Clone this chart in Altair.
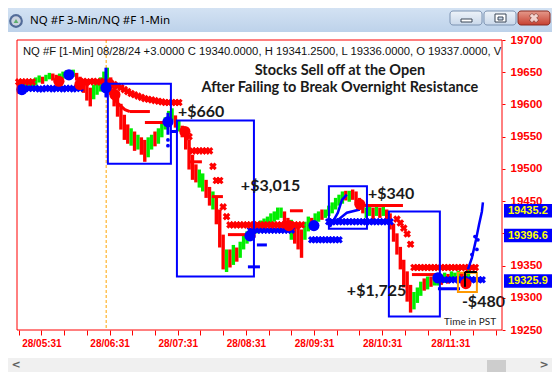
import altair as alt
import pandas as pd

# ---------------- data ----------------
BAR_START = 311   # minutes after midnight of the first 3-minute bar (05:11 PST)
BAR_STEP = 3

bar_hi = [19632, 19629, 19632, 19636, 19639, 19642, 19645, 19643, 19646, 19649,
          19648, 19646, 19648, 19651, 19653, 19651, 19654, 19649, 19643, 19637,
          19632, 19626, 19631, 19636, 19642, 19651, 19657, 19642, 19628, 19615,
          19601, 19584, 19569, 19563, 19558, 19553, 19549, 19545, 19549, 19553,
          19558, 19563, 19570, 19580, 19590, 19594, 19583, 19575, 19567, 19561,
          19546, 19522, 19507, 19499, 19493, 19483, 19472, 19465, 19455, 19437,
          19398, 19375, 19375, 19382, 19378, 19387, 19396, 19403, 19407, 19413,
          19417, 19420, 19423, 19426, 19431, 19434, 19440, 19440, 19434, 19424,
          19421, 19417, 19412, 19406, 19418, 19426, 19424, 19431, 19434, 19437,
          19437, 19443, 19448, 19455, 19460, 19465, 19466, 19466, 19468, 19465,
          19455, 19446, 19440, 19443, 19440, 19441, 19440, 19443, 19437, 19431,
          19415, 19400, 19379, 19359, 19341, 19320, 19309, 19316, 19325, 19330,
          19333, 19333, 19334, 19336, 19336, 19339, 19337, 19341, 19339, 19342,
          19339, 19341, 19344]
bar_lo = [19617, 19615, 19620, 19623, 19626, 19629, 19634, 19632, 19636, 19639,
          19637, 19636, 19639, 19640, 19642, 19642, 19643, 19637, 19629, 19618,
          19606, 19597, 19608, 19615, 19620, 19626, 19636, 19615, 19597, 19581,
          19561, 19545, 19539, 19536, 19528, 19530, 19522, 19511, 19518, 19530,
          19535, 19539, 19549, 19561, 19572, 19575, 19564, 19558, 19549, 19530,
          19499, 19483, 19479, 19471, 19465, 19455, 19443, 19437, 19414, 19378,
          19344, 19340, 19347, 19351, 19356, 19362, 19375, 19384, 19389, 19393,
          19400, 19404, 19407, 19410, 19415, 19418, 19421, 19424, 19415, 19403,
          19390, 19384, 19375, 19362, 19390, 19403, 19409, 19412, 19418, 19421,
          19424, 19427, 19431, 19437, 19443, 19446, 19451, 19449, 19452, 19446,
          19437, 19431, 19424, 19427, 19421, 19427, 19424, 19427, 19418, 19406,
          19387, 19367, 19344, 19316, 19294, 19277, 19282, 19292, 19303, 19311,
          19313, 19317, 19319, 19319, 19320, 19323, 19322, 19325, 19325, 19328,
          19323, 19325, 19331]
bar_dir = ("rrgggggrgg" "rrgggrgrrr" "rrgggggrrr" "rrrgrgrrgg" "rgggggrgrr"
           "rrrggrrgrr" "rgrgrggggr" "ggggggggrr" "grrrggrggr" "ggggggrgrr"
           "rrggrgrgrr" "rrrrrrgggr" "grggrgrggg" "rrg")

red_x_t = [311, 314, 317, 320, 323,
           365, 368, 371, 374, 377, 380, 383, 386,
           389, 392, 395, 398, 401, 404, 407, 410, 413, 416, 419, 422, 425, 428,
           431, 434, 437, 440, 443, 446, 449, 452,
           461, 464, 467, 470, 473, 476, 479, 482, 485, 488, 491, 494,
           497, 500, 503, 506, 509, 512, 515, 518, 521, 524, 527, 530, 533, 536,
           539, 542, 545, 548, 551, 554, 557, 560,
           644, 647, 650, 653, 656,
           659, 662, 665, 668, 671, 674, 677, 680, 683, 686, 689, 692, 695, 698,
           701, 704, 707, 710, 713]
red_x_p = [19635, 19635, 19635, 19635, 19635,
           19636, 19636, 19635, 19635, 19636, 19635, 19635, 19636,
           19635, 19633, 19631, 19628, 19626, 19623, 19620, 19617, 19615, 19613,
           19611, 19609, 19608, 19607, 19606, 19605, 19604, 19603, 19603, 19603,
           19603, 19603,
           19550, 19528, 19528, 19528, 19528, 19528, 19528, 19504, 19482, 19482,
           19441, 19426,
           19413, 19413, 19413, 19413, 19413, 19413, 19413, 19413, 19413, 19413,
           19413, 19413, 19413, 19413, 19413, 19413, 19413, 19413, 19413, 19413,
           19413, 19413,
           19422, 19416, 19408, 19399, 19383,
           19347, 19347, 19347, 19347, 19347, 19347, 19347, 19347, 19347, 19347,
           19347, 19347, 19347, 19347, 19347, 19347, 19347, 19347, 19347]

blue_x_t = [317, 320, 323, 326, 329, 332, 335, 338, 341, 344, 347, 350, 353, 356,
            359, 362, 365,
            515, 518, 521, 524, 527, 530, 533, 536, 539, 542, 545, 548, 551,
            569, 572, 575, 578, 581, 584, 587, 590, 593,
            584, 587, 590, 593, 596, 599, 602, 605, 608, 611, 614, 617, 620, 623,
            626, 629, 632, 635, 638,
            680, 683, 686, 689, 692, 695, 698, 701, 704, 707, 710, 713, 716, 719]
blue_x_p = [19625, 19625, 19625, 19625, 19624, 19624, 19625, 19625, 19624, 19625,
            19625, 19624, 19625, 19625, 19624, 19625, 19625,
            19405, 19405, 19405, 19405, 19405, 19405, 19405, 19405, 19405, 19405,
            19405, 19405, 19405,
            19390, 19390, 19390, 19390, 19390, 19390, 19390, 19390, 19390,
            19418, 19418, 19418, 19418, 19418, 19418, 19418, 19418, 19418, 19418,
            19418, 19418, 19418, 19418, 19418, 19418, 19418, 19418, 19418,
            19328, 19328, 19328, 19328, 19328, 19328, 19328, 19328, 19328, 19328,
            19328, 19328, 19328, 19328]

red_dot_t = [346.4, 364.9, 395.7, 457.3, 548.9, 611.4, 704.7]
red_dot_p = [19636, 19631, 19615, 19558, 19412, 19445, 19322]
blue_dot_t = [313.8, 355.2, 387.8, 442.4, 514.6, 570.9, 680.1]
blue_dot_p = [19623, 19646, 19626, 19573, 19396, 19412, 19331]

red_dash_t1 = [408.9, 422.1, 461.7, 481.1, 495.2, 549.8, 615.8, 657.2]
red_dash_t2 = [426.5, 439.7, 472.3, 490.8, 514.6, 561.2, 649.3, 679.2]
red_dash_p = [19589, 19572, 19511, 19457, 19398, 19435, 19443, 19336]
red_path_t = [391.3, 397.5, 404.5, 408.9]
red_path_p = [19628, 19603, 19592, 19589]

blue_dash_t1 = [444.1, 512.8, 520.7, 680.1]
blue_dash_t2 = [451.2, 523.4, 529.5, 699.5]
blue_dash_p = [19558, 19348, 19382, 19314]
blue_vbar_t = [387.8, 442.4]
blue_vbar_hi = [19657, 19587]
blue_vbar_lo = [19611, 19553]

blue_curve_id = ["a", "a", "a", "a", "b", "b", "b", "c", "c", "c", "c", "c", "c"]
blue_curve_t = [585.0, 592.0, 595.6, 599.9, 589.4, 599.9, 611.4,
                706.5, 710.0, 713.6, 716.2, 718.8, 719.7]
blue_curve_p = [19410, 19432, 19452, 19460, 19417, 19432, 19437,
                19344, 19362, 19390, 19413, 19434, 19448]
blue_small_t = [442.4, 442.4, 710.0, 714.4, 715.3, 712.7]
blue_small_p = [19545, 19536, 19367, 19375, 19390, 19395]

box_t1 = [389.5, 450.3, 584.1, 636.9]
box_t2 = [445.0, 518.1, 617.6, 681.8]
box_p1 = [19632, 19575, 19473, 19434]
box_p2 = [19508, 19333, 19407, 19271]
loss_box = {"t1": 697.7, "t2": 714.4, "p1": 19339, "p2": 19309}
last_mark_t = [703.9, 714.4]
last_mark_p = [19340, 19317]
open_time = 388

pnl_text = ["+$660", "+$3,015", "+$340", "+$1,725", "-$480"]
pnl_t = [451.2, 506.6, 618.5, 599.9, 701.2]
pnl_p = [19581, 19465, 19454, 19303, 19286]

title_lines = ["Stocks Sell off at the Open", "After Failing to Break Overnight Resistance"]
title_t = [593.8, 593.8]
title_p = [19646, 19620]
header = ("NQ #F [1-Min] 08/28/24  +3.0000 C 19340.0000, H 19341.2500, "
          "L 19336.0000, O 19337.0000, V")
tag_values = [19435.2, 19396.6, 19325.9]
tag_labels = ["19435.2", "19396.6", "19325.9"]
y_ticks = [19250, 19300, 19350, 19400, 19450, 19500, 19550, 19600, 19650, 19700]
x_ticks = list(range(311, 732, 20))
window_title = "NQ #F 3-Min/NQ #F 1-Min"

# ---------------- style ----------------
RED = "#ff0000"
GREEN = "#00ee00"
BLUE = "#0000ff"
W, H = 485, 290
XS = alt.Scale(domain=[309.5, 736.5], nice=False, zero=False)
YS = alt.Scale(domain=[19250, 19700], nice=False, zero=False)

X_AXIS = alt.Axis(orient="bottom", values=x_ticks, title=None, grid=False, domain=False,
                  tickSize=5, tickColor=RED, tickWidth=1, labelColor=RED,
                  labelFont="Liberation Sans", labelFontSize=10, labelFontWeight="bold",
                  labelPadding=3, labelOverlap=False, labelFlush=False, labelBound=False,
                  labelExpr="(datum.value - 331) % 60 == 0 ? '28/' + (datum.value < 600 ? '0' : '')"
                            " + floor(datum.value / 60) + ':31' : ''")
# the 19400 label is completely covered by the 19396.6 price tag in the reference
Y_AXIS = alt.Axis(orient="right", values=y_ticks, title=None, grid=False, domain=False,
                  tickSize=3, tickColor=RED, labelColor=RED, format="d",
                  labelFont="Liberation Sans", labelFontSize=11.5, labelFontWeight="bold",
                  labelPadding=5, labelOverlap=False, labelFlush=False, labelBound=False,
                  labelExpr="datum.value == 19400 ? '' : datum.label")


def X(f="t"):
    return alt.X(f + ":Q", scale=XS, axis=X_AXIS)


def Y(f="p"):
    return alt.Y(f + ":Q", scale=YS, axis=Y_AXIS)


one = pd.DataFrame({"k": [0]})


def prect(x1, x2, y1, y2, **mk):
    return alt.Chart(one).mark_rect(**mk).encode(
        x=alt.value(x1), x2=alt.value(x2), y=alt.value(y1), y2=alt.value(y2))


def ptext(x, y, txt, **mk):
    return alt.Chart(one).mark_text(text=txt, **mk).encode(x=alt.value(x), y=alt.value(y))


layers = []

# price bars
bars_df = pd.DataFrame({"t": [BAR_START + BAR_STEP * i for i in range(len(bar_hi))],
                        "hi": bar_hi, "lo": bar_lo, "dir": list(bar_dir)})
layers.append(alt.Chart(bars_df).mark_rule(strokeWidth=3.4).encode(
    x=X("t"), y=Y("hi"), y2="lo:Q",
    color=alt.Color("dir:N", scale=alt.Scale(domain=["g", "r"], range=[GREEN, RED]), legend=None)))

# window chrome (title bar, buttons, scroll bar)
tb_grad = alt.LinearGradient(gradient="linear", x1=0, x2=0, y1=0, y2=1,
                             stops=[alt.GradientStop(color="#d3e2f3", offset=0),
                                    alt.GradientStop(color="#bdd2ea", offset=1)])
layers.append(prect(-9, 536, -32, -8, color=tb_grad))
layers.append(alt.Chart(one).mark_point(shape="circle", filled=True, size=190, color="#1f3c74")
              .encode(x=alt.value(-1), y=alt.value(-19)))
layers.append(alt.Chart(one).mark_point(shape="circle", filled=True, size=90, color="white")
              .encode(x=alt.value(-1), y=alt.value(-19)))
layers.append(alt.Chart(one).mark_point(shape="triangle-up", filled=True, size=22, color="#2e9e3a")
              .encode(x=alt.value(-1), y=alt.value(-19)))
layers.append(ptext(13, -19, window_title, align="left", baseline="middle",
                    font="Noto Sans", fontSize=11.5, color="#000000"))
btn_grad = alt.LinearGradient(gradient="linear", x1=0, x2=0, y1=0, y2=1,
                              stops=[alt.GradientStop(color="#eef3f9", offset=0),
                                     alt.GradientStop(color="#c9d8ea", offset=1)])
close_grad = alt.LinearGradient(gradient="linear", x1=0, x2=0, y1=0, y2=1,
                                stops=[alt.GradientStop(color="#e59a8c", offset=0),
                                       alt.GradientStop(color="#c7402f", offset=1)])
layers.append(prect(433, 465, -29, -15, color=btn_grad, stroke="#7d93b2", strokeWidth=1, cornerRadius=3))
layers.append(prect(467, 499, -29, -15, color=btn_grad, stroke="#7d93b2", strokeWidth=1, cornerRadius=3))
layers.append(prect(501, 533, -29, -15, color=close_grad, stroke="#8a2a20", strokeWidth=1, cornerRadius=3))
layers.append(prect(444, 455, -21, -18, color="white", stroke="#3a4756", strokeWidth=1))
layers.append(prect(478, 489, -26, -18, color="white", stroke="#3a4756", strokeWidth=1))
layers.append(prect(481, 486, -23, -20, color="#c9d8ea", stroke="#3a4756", strokeWidth=1))
layers.append(alt.Chart(one).mark_point(shape="cross", angle=45, filled=True, size=90, fill="white",
                                        stroke="#5a1f18", strokeWidth=0.7)
              .encode(x=alt.value(517), y=alt.value(-22)))
layers.append(prect(-9, 536, 318, 334, color="#f0f0f0"))
layers.append(prect(470, 489, 320, 332, color="#cdcdcd"))
layers.append(ptext(-1, 325, "<", font="DejaVu Sans", fontSize=11, fontWeight="bold", color="#606060",
                    baseline="middle"))
layers.append(ptext(527, 325, ">", font="DejaVu Sans", fontSize=11, fontWeight="bold", color="#606060",
                    baseline="middle"))

# market open line
layers.append(alt.Chart(pd.DataFrame({"t": [open_time]})).mark_rule(
    color="#ffa500", strokeWidth=1, strokeDash=[3, 2]).encode(x=X()))

# trailing-stop x markers
layers.append(alt.Chart(pd.DataFrame({"t": blue_x_t, "p": blue_x_p})).mark_point(
    shape="cross", angle=45, filled=True, size=60, color=BLUE, opacity=1).encode(x=X(), y=Y()))
layers.append(alt.Chart(pd.DataFrame({"t": red_x_t, "p": red_x_p})).mark_point(
    shape="cross", angle=45, filled=True, size=60, color=RED, opacity=1).encode(x=X(), y=Y()))

# dashes / small lines
layers.append(alt.Chart(pd.DataFrame({"t": red_dash_t1, "t2": red_dash_t2, "p": red_dash_p}))
              .mark_rule(color=RED, strokeWidth=3).encode(x=X(), x2="t2:Q", y=Y()))
layers.append(alt.Chart(pd.DataFrame({"t": red_path_t, "p": red_path_p}))
              .mark_line(color=RED, strokeWidth=3).encode(x=X(), y=Y()))
layers.append(alt.Chart(pd.DataFrame({"t": blue_dash_t1, "t2": blue_dash_t2, "p": blue_dash_p}))
              .mark_rule(color=BLUE, strokeWidth=3).encode(x=X(), x2="t2:Q", y=Y()))
layers.append(alt.Chart(pd.DataFrame({"t": blue_vbar_t, "hi": blue_vbar_hi, "lo": blue_vbar_lo}))
              .mark_rule(color=BLUE, strokeWidth=3).encode(x=X(), y=Y("hi"), y2="lo:Q"))
layers.append(alt.Chart(pd.DataFrame({"id": blue_curve_id, "t": blue_curve_t, "p": blue_curve_p}))
              .mark_line(color=BLUE, strokeWidth=2.5).encode(x=X(), y=Y(), detail="id:N"))
layers.append(alt.Chart(pd.DataFrame({"t": blue_small_t, "p": blue_small_p}))
              .mark_circle(color=BLUE, size=14, opacity=1).encode(x=X(), y=Y()))

# big entry/exit dots
layers.append(alt.Chart(pd.DataFrame({"t": red_dot_t, "p": red_dot_p}))
              .mark_circle(color=RED, size=125, opacity=1).encode(x=X(), y=Y()))
layers.append(alt.Chart(pd.DataFrame({"t": blue_dot_t, "p": blue_dot_p}))
              .mark_circle(color=BLUE, size=125, opacity=1).encode(x=X(), y=Y()))

# trade boxes
layers.append(alt.Chart(pd.DataFrame({"t": box_t1, "t2": box_t2, "p": box_p1, "p2": box_p2}))
              .mark_rect(filled=False, color=BLUE, strokeWidth=2)
              .encode(x=X(), x2="t2:Q", y=Y(), y2="p2:Q"))
layers.append(alt.Chart(pd.DataFrame({"t": [loss_box["t1"]], "t2": [loss_box["t2"]],
                                      "p": [loss_box["p1"]], "p2": [loss_box["p2"]]}))
              .mark_rect(filled=False, color="#ff9900", strokeWidth=2)
              .encode(x=X(), x2="t2:Q", y=Y(), y2="p2:Q"))
layers.append(alt.Chart(pd.DataFrame({"t": [last_mark_t[0]], "t2": [last_mark_t[1]], "p": [last_mark_p[0]]}))
              .mark_rule(color="black", strokeWidth=2).encode(x=X(), x2="t2:Q", y=Y()))
layers.append(alt.Chart(pd.DataFrame({"t": [last_mark_t[0]], "p": [last_mark_p[0]], "p2": [last_mark_p[1]]}))
              .mark_rule(color="black", strokeWidth=2).encode(x=X(), y=Y(), y2="p2:Q"))

# price tags on the right (drawn over the axis labels, which sit behind the marks)
tags_df = pd.DataFrame({"p": tag_values, "label": tag_labels})
layers.append(alt.Chart(tags_df).transform_calculate(top="datum.p + 10.5", bot="datum.p - 10.5")
              .mark_rect(color=BLUE).encode(x=alt.value(487), x2=alt.value(536),
                                            y=Y("top"), y2="bot:Q"))
layers.append(alt.Chart(tags_df).mark_text(align="left", baseline="middle", font="Liberation Sans",
                                           fontSize=11, fontWeight="bold", color="#ffff00")
              .encode(x=alt.value(491), y=Y(), text="label:N"))

# texts
layers.append(alt.Chart(pd.DataFrame({"t": [314.7], "p": [19682], "s": [header]}))
              .mark_text(align="left", baseline="middle", font="Liberation Sans", fontSize=11.25,
                         color="#111111", clip=True)
              .encode(x=X(), y=Y(), text="s:N"))
layers.append(alt.Chart(pd.DataFrame({"t": title_t, "p": title_p, "s": title_lines}))
              .mark_text(align="center", baseline="alphabetic", font="Lato", fontSize=14.5,
                         fontWeight="bold", color="#1a1a1a")
              .encode(x=X(), y=Y(), text="s:N"))
layers.append(alt.Chart(pd.DataFrame({"t": pnl_t, "p": pnl_p, "s": pnl_text}))
              .mark_text(align="left", baseline="alphabetic", font="Lato", fontSize=16,
                         fontWeight="bold", color="#1a1a1a")
              .encode(x=X(), y=Y(), text="s:N"))
layers.append(alt.Chart(pd.DataFrame({"t": [685.4], "p": [19258], "s": ["Time in PST"]}))
              .mark_text(align="left", baseline="alphabetic", font="Lato", fontSize=10,
                         color="#222222")
              .encode(x=X(), y=Y(), text="s:N"))

# plot border
layers.append(prect(0, W, 0, H, filled=False, color=RED, strokeWidth=1))

chart = alt.layer(*layers).properties(
    width=W, height=H,
    padding={"left": 9, "top": 32, "right": 50, "bottom": 42},
    autosize=alt.AutoSizeParams(type="none"),
    background="white",
).configure_view(stroke=None).configure_axis(labelOverlap=False)

chart.save("out.html", embed_options={"renderer": "svg", "actions": False})
